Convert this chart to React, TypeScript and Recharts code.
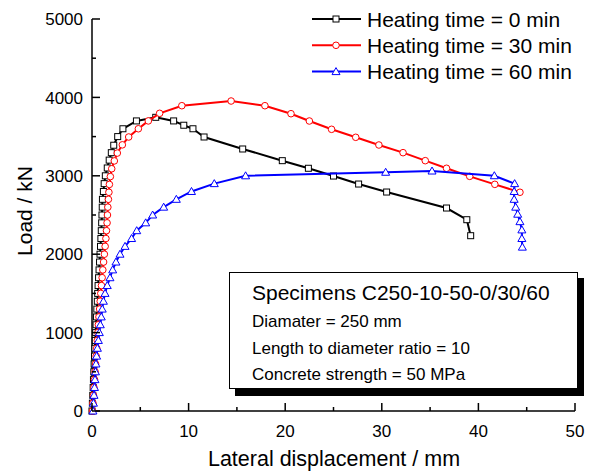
import React from "react";
import { ScatterChart, Scatter, XAxis, YAxis, Legend } from "recharts";

// [lateral displacement (mm), load (kN)]
const heat0: [number, number][] = [
  [0, 0], [0.04, 100], [0.08, 200], [0.12, 300], [0.15, 400], [0.19, 500], [0.22, 600],
  [0.26, 700], [0.3, 800], [0.34, 900], [0.38, 1000], [0.42, 1100], [0.46, 1200], [0.5, 1300],
  [0.55, 1400], [0.59, 1500], [0.63, 1600], [0.68, 1700], [0.73, 1800], [0.78, 1900], [0.83, 2000],
  [0.88, 2100], [0.92, 2200], [0.96, 2300], [1.0, 2400], [1.03, 2500], [1.06, 2600], [1.08, 2700],
  [1.18, 2800], [1.26, 2900], [1.38, 3000], [1.58, 3100], [1.78, 3200], [2.0, 3295], [2.25, 3390],
  [2.66, 3500], [3.2, 3600], [4.6, 3700], [6.6, 3746], [8.45, 3700], [9.5, 3645], [10.45, 3600],
  [11.6, 3495], [15.6, 3342], [19.7, 3193], [22.4, 3096], [25.0, 2997], [27.6, 2895], [30.5, 2793],
  [36.7, 2589], [38.8, 2440], [39.2, 2236],
];

const heat30: [number, number][] = [
  [0.05, 0], [0.1, 100], [0.15, 200], [0.2, 300], [0.26, 400], [0.32, 500], [0.37, 600],
  [0.43, 700], [0.49, 800], [0.55, 900], [0.61, 1000], [0.66, 1100], [0.72, 1200], [0.79, 1300],
  [0.85, 1400], [0.91, 1500], [0.98, 1600], [1.05, 1700], [1.12, 1800], [1.2, 1900], [1.28, 2000],
  [1.36, 2100], [1.44, 2200], [1.5, 2300], [1.56, 2400], [1.6, 2500], [1.64, 2600], [1.7, 2700],
  [1.75, 2790], [1.8, 2890], [1.9, 2990], [2.04, 3090], [2.31, 3190], [2.62, 3290], [3.14, 3395],
  [3.8, 3495], [4.8, 3600], [5.83, 3700], [7.0, 3797], [9.3, 3894], [14.4, 3954], [17.9, 3894],
  [20.6, 3792], [22.5, 3699], [24.8, 3593], [27.3, 3491], [29.7, 3393], [32.2, 3295], [34.5, 3193],
  [36.7, 3096], [39.1, 2993], [41.7, 2891], [44.3, 2790],
];

const heat60: [number, number][] = [
  [0.1, 0], [0.15, 100], [0.21, 200], [0.26, 300], [0.31, 400], [0.36, 500], [0.41, 600],
  [0.48, 700], [0.56, 800], [0.66, 900], [0.76, 1000], [0.86, 1100], [0.96, 1200], [1.06, 1300],
  [1.18, 1400], [1.35, 1500], [1.58, 1600], [1.86, 1700], [2.14, 1800], [2.48, 1900], [2.9, 2000],
  [3.42, 2100], [4.1, 2200], [4.63, 2300], [5.56, 2400], [6.28, 2500], [7.42, 2600], [8.73, 2700],
  [10.3, 2800], [12.66, 2900], [15.9, 3000], [30.4, 3045], [35.2, 3061], [41.65, 3001],
  [43.75, 2900], [43.7, 2800], [43.7, 2700], [43.86, 2600], [44.07, 2510], [44.3, 2415],
  [44.5, 2310], [44.5, 2200], [44.55, 2090],
];

const xTicks = [0, 5, 10, 15, 20, 25, 30, 35, 40, 45, 50];
const yTicks = [0, 500, 1000, 1500, 2000, 2500, 3000, 3500, 4000, 4500, 5000];

const seriesNames = ["Heating time = 0 min", "Heating time = 30 min", "Heating time = 60 min"];
const noteTitle = "Specimens C250-10-50-0/30/60";
const noteLines = ["Diamater = 250 mm", "Length to diameter ratio = 10", "Concrete strength = 50 MPa"];

const FONT = "Arial, 'Liberation Sans', sans-serif";
const PLOT_LEFT = 92;
const PLOT_BOTTOM = 411;

const toPts = (arr: [number, number][]) => arr.map(([x, y]) => ({ x, y }));

const Square = (p: any) => (
  <rect x={p.cx - 3} y={p.cy - 3} width={6} height={6} fill="#fff" stroke="#000" strokeWidth={1} />
);
const Circle = (p: any) => (
  <circle cx={p.cx} cy={p.cy} r={3.3} fill="#fff" stroke="#ff0000" strokeWidth={1} />
);
const Triangle = (p: any) => (
  <path
    d={`M${p.cx},${p.cy - 4} L${p.cx + 4},${p.cy + 3} L${p.cx - 4},${p.cy + 3} Z`}
    fill="#fff"
    stroke="#0000ff"
    strokeWidth={1}
  />
);

const markers = [
  { color: "#000", shape: Square },
  { color: "#ff0000", shape: Circle },
  { color: "#0000ff", shape: Triangle },
];

const YTick = (props: any) => {
  const { y, payload } = props;
  const major = payload.value % 1000 === 0;
  return (
    <g>
      <line x1={PLOT_LEFT} x2={PLOT_LEFT + (major ? 8 : 4)} y1={y} y2={y} stroke="#000" strokeWidth={1.5} />
      {major && (
        <text x={PLOT_LEFT - 9} y={y} dy="0.36em" textAnchor="end" fontSize={17} fill="#000" fontFamily={FONT}>
          {payload.value}
        </text>
      )}
    </g>
  );
};

const XTick = (props: any) => {
  const { x, payload } = props;
  const major = payload.value % 10 === 0;
  return (
    <g>
      <line x1={x} x2={x} y1={PLOT_BOTTOM} y2={PLOT_BOTTOM - (major ? 8 : 4)} stroke="#000" strokeWidth={1.5} />
      {major && (
        <text x={x} y={PLOT_BOTTOM + 26} textAnchor="middle" fontSize={17} fill="#000" fontFamily={FONT}>
          {payload.value}
        </text>
      )}
    </g>
  );
};

const YTitle = () => (
  <text
    x={24}
    y={211}
    transform="rotate(-90 24 211)"
    textAnchor="middle"
    dy="0.36em"
    fontSize={21}
    fill="#000"
    fontFamily={FONT}
  >
    Load / kN
  </text>
);

const XTitle = () => (
  <text x={334} y={466} textAnchor="middle" fontSize={21.5} fill="#000" fontFamily={FONT}>
    Lateral displacement / mm
  </text>
);

const LegendBox = () => (
  <svg width={290} height={80}>
    {seriesNames.map((name, i) => {
      const cy = 13 + i * 26.3;
      const M = markers[i].shape;
      return (
        <g key={name}>
          <line x1={3} x2={52} y1={cy} y2={cy} stroke={markers[i].color} strokeWidth={2} />
          <M cx={27} cy={cy} />
          <text x={58} y={cy} dy="0.36em" fontSize={21} fill="#000" fontFamily={FONT}>
            {name}
          </text>
        </g>
      );
    })}
  </svg>
);

export default function App() {
  const sets = [heat0, heat30, heat60];
  return (
    <div style={{ position: "absolute", left: 0, top: 0, width: 597, height: 473, fontFamily: FONT }}>
      <ScatterChart width={597} height={473} margin={{ top: 19, right: 22, bottom: 0, left: 0 }}>
        <XAxis
          type="number"
          dataKey="x"
          domain={[0, 50]}
          ticks={xTicks}
          interval={0}
          height={62}
          tickLine={false}
          tickSize={0}
          tick={<XTick />}
          axisLine={{ stroke: "#000", strokeWidth: 1.5 }}
          label={<XTitle />}
        />
        <YAxis
          type="number"
          dataKey="y"
          domain={[0, 5000]}
          ticks={yTicks}
          interval={0}
          width={92}
          tickLine={false}
          tickSize={0}
          tick={<YTick />}
          axisLine={{ stroke: "#000", strokeWidth: 1.5 }}
          label={<YTitle />}
        />
        <Legend
          layout="vertical"
          align="center"
          verticalAlign="middle"
          content={() => <LegendBox />}
          wrapperStyle={{ top: 6, left: 309, width: 290, height: 80 }}
        />
        {sets.map((s, i) => (
          <Scatter
            key={seriesNames[i]}
            name={seriesNames[i]}
            data={toPts(s)}
            line={{ stroke: markers[i].color, strokeWidth: 2 }}
            lineType="joint"
            shape={markers[i].shape}
            fill={markers[i].color}
            isAnimationActive={false}
          />
        ))}
      </ScatterChart>
      <div
        style={{
          position: "absolute",
          left: 235,
          top: 278,
          width: 349,
          height: 118,
          background: "#000",
        }}
      />
      <div
        style={{
          position: "absolute",
          left: 229,
          top: 272,
          width: 347,
          height: 115,
          background: "#fff",
          border: "1px solid #000",
          color: "#000",
        }}
      >
        <div style={{ position: "absolute", left: 22, top: 8, fontSize: 21, whiteSpace: "nowrap" }}>{noteTitle}</div>
        {noteLines.map((t, i) => (
          <div
            key={t}
            style={{ position: "absolute", left: 22, top: 39 + i * 26.5, fontSize: 17, whiteSpace: "nowrap" }}
          >
            {t}
          </div>
        ))}
      </div>
    </div>
  );
}
